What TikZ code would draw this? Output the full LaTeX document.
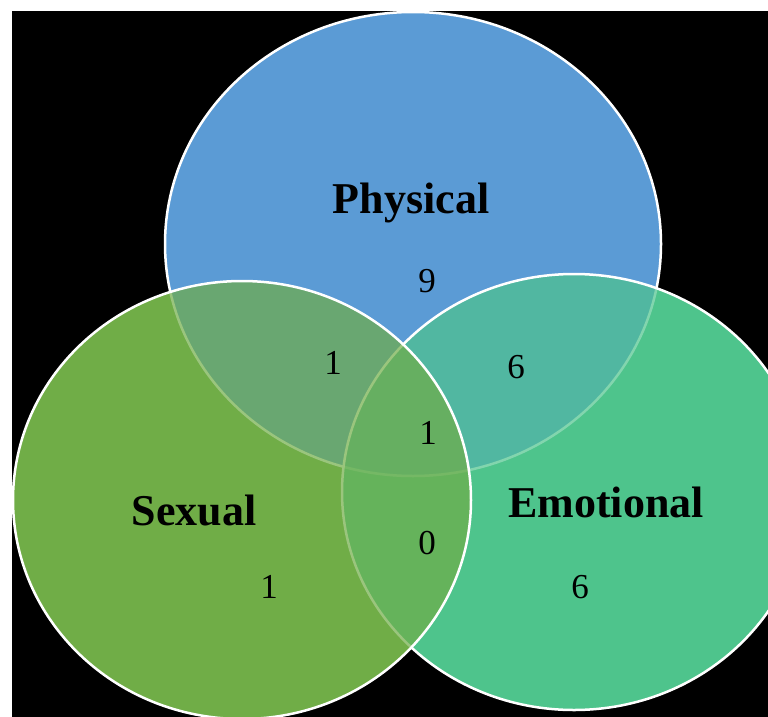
\documentclass[tikz,border=0pt]{standalone}
\usepackage{fontspec}
\setmainfont{Liberation Serif}
\definecolor{fisico}{RGB}{91,155,213}
\definecolor{sessuale}{RGB}{112,173,71}
\definecolor{emotivo}{RGB}{78,196,140}
\tikzset{
  bordo/.style={draw=white, line width=2.5pt},
  titolo/.style={font=\bfseries\fontsize{44}{44}\selectfont, anchor=base, inner sep=0pt},
  conta/.style={font=\fontsize{35}{35}\selectfont, anchor=base, inner sep=0pt}
}
\begin{document}
\begin{tikzpicture}[x=1pt, y=-1pt]
    % Sfondo
    \clip (0,0) rectangle (768,717);
    \fill[white] (0,0) rectangle (768,717);
    \fill[black] (12,11) rectangle (768,717);

    % Insiemi pieni (sotto)
    \fill[sessuale] (242,500) ellipse [x radius=229pt, y radius=219pt];
    \fill[emotivo] (574,492) ellipse [x radius=232pt, y radius=218pt];
    \fill[fisico] (413,244) ellipse [x radius=248pt, y radius=232pt];
    \draw[bordo] (413,244) ellipse [x radius=248pt, y radius=232pt];

    % Insiemi trasparenti (sopra)
    \fill[emotivo, fill opacity=0.7] (574,492) ellipse [x radius=232pt, y radius=218pt];
    \draw[bordo] (574,492) ellipse [x radius=232pt, y radius=218pt];
    \fill[sessuale, fill opacity=0.7] (242,500) ellipse [x radius=229pt, y radius=219pt];
    \draw[bordo] (242,500) ellipse [x radius=229pt, y radius=219pt];

    % Nomi degli insiemi
    \node[titolo] (physical) at (411,213) {Physical};
    \node[titolo] (sexual) at (194,525) {Sexual};
    \node[titolo] (emotional) at (606,517) {Emotional};

    % Conteggi
    \node[conta] (nP) at (427,292) {9};
    \node[conta] (nSP) at (333,374) {1};
    \node[conta] (nPE) at (516,378) {6};
    \node[conta] (nSPE) at (428,444) {1};
    \node[conta] (nSE) at (427,554) {0};
    \node[conta] (nS) at (269,598) {1};
    \node[conta] (nE) at (580,598) {6};
\end{tikzpicture}
\end{document}
